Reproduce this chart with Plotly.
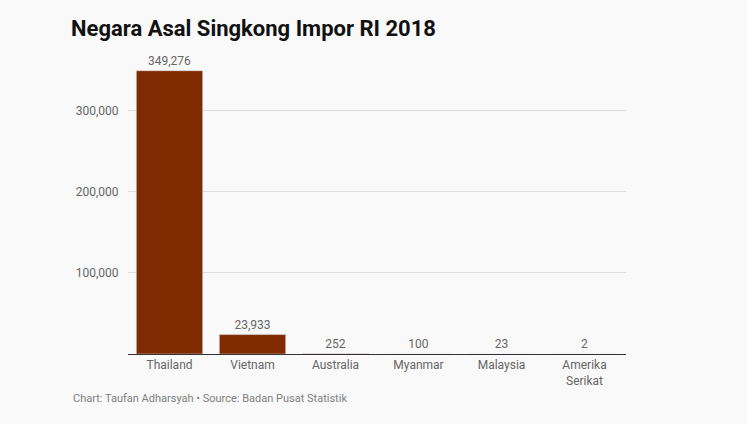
import plotly.graph_objects as go

countries = ["Thailand", "Vietnam", "Australia", "Myanmar", "Malaysia", "Amerika<br>Serikat"]
values = [349276, 23933, 252, 100, 23, 2]
y_ticks = [100000, 200000, 300000]
y_tick_labels = ["100,000", "200,000", "300,000"]

fig = go.Figure(go.Bar(
    x=countries, y=values,
    marker=dict(color="#7f2a00"),
    text=[f"{v:,}" for v in values],
    textposition="outside",
    textfont=dict(family="Roboto", size=12, color="#666666"),
    cliponaxis=False,
))

fig.update_layout(
    width=747, height=424,
    paper_bgcolor="#f9f9f9", plot_bgcolor="#f9f9f9",
    margin=dict(l=128, r=121, t=62, b=70),
    bargap=0.2,
    showlegend=False,
    font=dict(family="Roboto", size=12, color="#666666"),
    xaxis=dict(showline=True, linecolor="#333333", linewidth=1,
               tickfont=dict(family="Roboto", size=12, color="#666666"),
               ticks="", showgrid=False),
    yaxis=dict(range=[0, 360000], tickvals=y_ticks, ticktext=y_tick_labels,
               showgrid=True, gridcolor="#dddddd", zeroline=False,
               ticks="outside", ticklen=6, tickcolor="rgba(0,0,0,0)",
               tickfont=dict(family="Roboto", size=12, color="#666666")),
    title=dict(text="<b>Negara Asal Singkong Impor RI 2018</b>",
               x=71/747, xanchor="left", y=1-28/424, yanchor="middle",
               font=dict(family="Roboto", size=22, color="#111111")),
    annotations=[dict(text="Chart: Taufan Adharsyah • Source: Badan Pusat Statistik",
                      xref="paper", yref="paper", x=-57/498, y=-44/292,
                      xanchor="left", yanchor="middle", showarrow=False,
                      font=dict(family="Roboto", size=11, color="#808080"))],
)

fig.write_html("out.html")
